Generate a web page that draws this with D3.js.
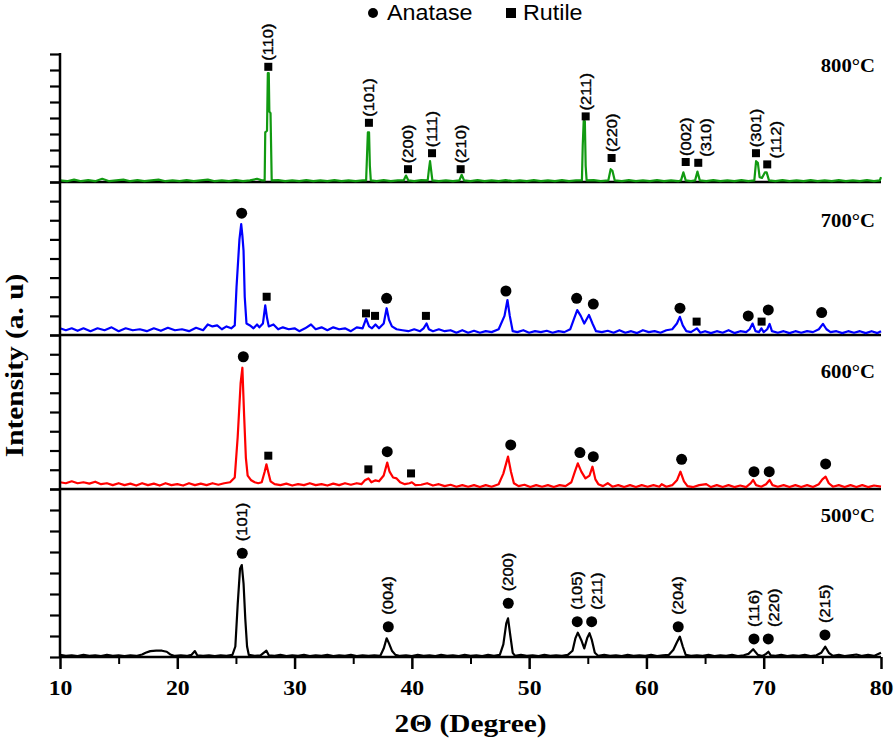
<!DOCTYPE html>
<html>
<head>
<meta charset="utf-8">
<script src="https://cdn.jsdelivr.net/npm/d3@7"></script>
<style>
  body { margin: 0; background: #fff; }
  svg { display: block; }
</style>
</head>
<body>
<div id="vis"></div>
<script>
// XRD patterns, [2theta, intensity] with intensity in tick units (8 per panel)
const green800 = [[10,0.1],[10.6,0.05],[11.2,0.15],[11.8,0.05],[12.4,0.12],[13,0.05],[13.6,0.2],[14.2,0.05],[14.8,0.1],[15.4,0.15],[16,0.05],[16.6,0.12],[17.2,0.05],[17.8,0.1],[18.4,0.15],[19,0.05],[19.6,0.1],[20.2,0.05],[20.8,0.12],[21.4,0.05],[22,0.1],[22.6,0.15],[23.2,0.05],[23.8,0.1],[24.4,0.05],[25,0.12],[25.6,0.05],[26.2,0.1],[26.8,0.2],[27.2,0.1],[27.45,0.1],[27.5,3.1],[27.65,3.2],[27.72,6.8],[27.8,6.8],[27.85,4.4],[27.95,4.3],[28.05,0.1],[28.6,0.12],[29.2,0.05],[29.8,0.1],[30.4,0.05],[31,0.12],[31.6,0.05],[32.2,0.1],[32.8,0.05],[33.4,0.12],[34,0.05],[34.6,0.1],[35.2,0.05],[35.8,0.1],[36.1,0.1],[36.18,1.7],[36.25,3.1],[36.35,3.1],[36.42,1],[36.5,0.1],[37,0.05],[37.6,0.12],[38.2,0.05],[38.8,0.1],[39.3,0.1],[39.5,0.4],[39.7,0.1],[40.2,0.05],[40.8,0.12],[41.35,0.1],[41.45,0.75],[41.55,1.3],[41.65,0.7],[41.75,0.1],[42.3,0.05],[42.9,0.1],[43.5,0.05],[44.05,0.1],[44.25,0.45],[44.45,0.1],[45,0.05],[45.6,0.12],[46.2,0.05],[46.8,0.1],[47.4,0.05],[48,0.12],[48.6,0.05],[49.2,0.1],[49.8,0.05],[50.4,0.12],[51,0.05],[51.6,0.1],[52.2,0.05],[52.8,0.12],[53.4,0.05],[54,0.1],[54.5,0.1],[54.57,2.3],[54.65,3.8],[54.75,3.8],[54.82,1],[54.9,0.1],[55.5,0.12],[56.1,0.05],[56.75,0.1],[56.95,0.8],[57.1,0.7],[57.3,0.1],[57.9,0.05],[58.5,0.12],[59.1,0.05],[59.7,0.1],[60.3,0.05],[60.9,0.12],[61.5,0.05],[62.1,0.1],[62.7,0.05],[62.95,0.1],[63.15,0.6],[63.35,0.1],[63.8,0.05],[64.15,0.1],[64.35,0.65],[64.55,0.1],[65.1,0.05],[65.7,0.12],[66.3,0.05],[66.9,0.1],[67.5,0.05],[68.1,0.12],[68.7,0.05],[69.2,0.1],[69.35,1.3],[69.5,1.2],[69.65,0.3],[69.85,0.25],[70.1,0.6],[70.25,0.6],[70.45,0.1],[71,0.05],[71.6,0.12],[72.2,0.05],[72.8,0.1],[73.4,0.05],[74,0.12],[74.6,0.05],[75.2,0.1],[75.8,0.05],[76.4,0.12],[77,0.05],[77.6,0.1],[78.2,0.05],[78.8,0.12],[79.4,0.05],[79.9,0.1],[80,0.3]];

const blue700 = [[10,0.35],[10.5,0.25],[11,0.35],[11.5,0.22],[12,0.35],[12.6,0.2],[13.2,0.35],[13.8,0.25],[14.4,0.4],[15,0.2],[15.6,0.35],[16.2,0.25],[16.8,0.3],[17.4,0.2],[18,0.35],[18.6,0.22],[19.2,0.38],[19.8,0.25],[20.4,0.3],[21,0.2],[21.6,0.38],[22.2,0.25],[22.6,0.55],[23,0.45],[23.4,0.5],[23.8,0.3],[24.2,0.45],[24.6,0.35],[24.9,0.5],[25.05,2.5],[25.3,5],[25.45,5.8],[25.55,5.2],[25.65,4.4],[25.75,2],[25.9,0.6],[26.2,0.5],[26.5,0.35],[26.8,0.55],[27,0.4],[27.3,0.6],[27.5,1.55],[27.65,0.9],[27.8,0.45],[28.2,0.55],[28.6,0.3],[29,0.4],[29.5,0.3],[30,0.35],[30.4,0.2],[30.9,0.35],[31.4,0.55],[31.8,0.3],[32.3,0.4],[32.8,0.25],[33.3,0.4],[33.8,0.3],[34.3,0.35],[34.8,0.2],[35.3,0.4],[35.8,0.35],[36.1,0.85],[36.35,0.45],[36.6,0.35],[36.9,0.55],[37.2,0.35],[37.6,0.6],[37.85,1.4],[38.05,0.8],[38.3,0.45],[38.7,0.3],[39.2,0.25],[39.7,0.2],[40.2,0.3],[40.7,0.2],[41,0.35],[41.25,0.6],[41.45,0.3],[41.8,0.2],[42.3,0.3],[42.8,0.2],[43.3,0.25],[43.8,0.12],[44.3,0.25],[44.8,0.12],[45.3,0.22],[45.8,0.12],[46.3,0.2],[46.8,0.15],[47.4,0.3],[47.9,1],[48.15,1.83],[48.35,1],[48.6,0.2],[49,0.15],[49.5,0.25],[50,0.12],[50.5,0.2],[51,0.15],[51.5,0.22],[52,0.12],[52.5,0.2],[53,0.15],[53.5,0.3],[53.8,0.8],[54.1,1.3],[54.4,1],[54.7,0.6],[55.1,1.05],[55.4,0.6],[55.7,0.2],[56.2,0.15],[56.7,0.22],[57.2,0.12],[57.7,0.25],[58.2,0.12],[58.7,0.2],[59.2,0.1],[59.7,0.25],[60.2,0.15],[60.7,0.2],[61.2,0.12],[61.7,0.25],[62.2,0.3],[62.6,0.6],[62.85,0.95],[63.1,0.5],[63.4,0.2],[63.8,0.15],[64.3,0.35],[64.6,0.12],[65,0.2],[65.5,0.1],[66,0.2],[66.5,0.12],[67,0.25],[67.5,0.1],[68,0.2],[68.5,0.15],[68.8,0.3],[69.05,0.6],[69.3,0.2],[69.6,0.15],[69.8,0.35],[70,0.15],[70.3,0.3],[70.5,0.58],[70.7,0.2],[71.2,0.12],[71.7,0.2],[72.2,0.1],[72.7,0.2],[73.2,0.12],[73.7,0.2],[74.2,0.15],[74.7,0.3],[75.05,0.58],[75.35,0.3],[75.7,0.15],[76.2,0.2],[76.7,0.1],[77.2,0.2],[77.7,0.12],[78.2,0.2],[78.7,0.1],[79.2,0.2],[79.7,0.1],[80,0.2]];

const red600 = [[10,0.35],[10.5,0.3],[11,0.4],[11.5,0.3],[12,0.35],[12.5,0.28],[13,0.38],[13.5,0.25],[14,0.3],[14.5,0.2],[15,0.3],[15.5,0.2],[16,0.28],[16.5,0.18],[17,0.3],[17.5,0.2],[18,0.28],[18.5,0.18],[19,0.3],[19.5,0.2],[20,0.25],[20.5,0.18],[21,0.3],[21.5,0.2],[22,0.28],[22.5,0.2],[23,0.3],[23.5,0.22],[24,0.3],[24.5,0.35],[24.9,0.6],[25.15,2.7],[25.4,5.5],[25.55,6.3],[25.7,3.8],[25.85,1.6],[26,0.7],[26.3,0.45],[26.6,0.35],[26.9,0.3],[27.2,0.35],[27.45,0.9],[27.6,1.28],[27.75,0.9],[27.95,0.4],[28.3,0.25],[28.8,0.2],[29.3,0.28],[29.8,0.18],[30.3,0.25],[30.8,0.2],[31.3,0.3],[31.8,0.2],[32.3,0.25],[32.8,0.18],[33.3,0.28],[33.8,0.2],[34.3,0.3],[34.8,0.22],[35.3,0.3],[35.7,0.25],[36,0.45],[36.3,0.55],[36.55,0.35],[36.9,0.45],[37.2,0.4],[37.6,0.7],[37.9,1.37],[38.1,0.9],[38.4,0.6],[38.7,0.55],[39,0.35],[39.4,0.25],[39.8,0.3],[40,0.35],[40.3,0.2],[40.8,0.22],[41.3,0.3],[41.8,0.18],[42.3,0.25],[42.8,0.15],[43.3,0.22],[43.8,0.12],[44.3,0.2],[44.8,0.12],[45.3,0.2],[45.8,0.1],[46.3,0.2],[46.8,0.12],[47.4,0.25],[47.8,0.8],[48.2,1.68],[48.45,0.9],[48.7,0.3],[49.1,0.15],[49.6,0.22],[50.1,0.1],[50.6,0.2],[51.1,0.12],[51.6,0.2],[52.1,0.1],[52.6,0.2],[53.1,0.15],[53.6,0.35],[53.9,0.9],[54.15,1.33],[54.45,0.9],[54.8,0.55],[55.15,0.7],[55.4,1.16],[55.65,0.5],[55.9,0.25],[56.3,0.15],[56.7,0.3],[57.1,0.12],[57.6,0.2],[58.1,0.1],[58.6,0.2],[59.1,0.1],[59.6,0.2],[60.1,0.12],[60.6,0.2],[61.1,0.12],[61.3,0.25],[61.7,0.12],[62.2,0.2],[62.6,0.45],[62.9,0.9],[63.2,0.4],[63.5,0.15],[64,0.1],[64.5,0.2],[65.1,0.25],[65.5,0.1],[66,0.2],[66.5,0.1],[67,0.2],[67.5,0.1],[68,0.18],[68.5,0.1],[68.9,0.3],[69.1,0.47],[69.35,0.2],[69.8,0.12],[70.2,0.25],[70.5,0.47],[70.75,0.2],[71.2,0.12],[71.7,0.2],[72.2,0.1],[72.7,0.2],[73.2,0.1],[73.7,0.2],[74.2,0.1],[74.7,0.25],[75,0.5],[75.28,0.64],[75.55,0.3],[75.9,0.12],[76.4,0.2],[76.9,0.1],[77.4,0.2],[77.9,0.1],[78.4,0.2],[78.9,0.1],[79.4,0.18],[80,0.12]];

const black500 = [[10,0.1],[10.5,0.05],[11,0.08],[11.5,0.04],[12,0.1],[12.5,0.05],[13,0.08],[13.5,0.04],[14,0.1],[14.5,0.05],[15,0.08],[15.5,0.04],[16,0.08],[16.5,0.05],[17,0.12],[17.3,0.2],[17.7,0.28],[18.2,0.3],[18.7,0.3],[19.1,0.25],[19.4,0.12],[19.8,0.05],[20.3,0.08],[20.8,0.05],[21.2,0.1],[21.5,0.28],[21.7,0.08],[22.2,0.05],[22.7,0.08],[23.2,0.04],[23.7,0.08],[24.2,0.05],[24.7,0.1],[24.95,0.5],[25.15,2.5],[25.35,4.2],[25.5,4.38],[25.65,3.5],[25.8,1.8],[25.95,0.5],[26.1,0.1],[26.6,0.05],[27.1,0.08],[27.6,0.3],[27.8,0.08],[28.3,0.05],[28.8,0.1],[29.3,0.04],[29.8,0.08],[30.3,0.05],[30.8,0.1],[31.3,0.04],[31.8,0.08],[32.3,0.05],[32.8,0.1],[33.3,0.04],[33.8,0.08],[34.3,0.05],[34.8,0.1],[35.3,0.04],[35.8,0.08],[36.3,0.05],[36.8,0.08],[37.3,0.05],[37.6,0.4],[37.85,0.89],[38.05,0.65],[38.3,0.3],[38.6,0.1],[39,0.05],[39.5,0.08],[40,0.04],[40.5,0.1],[41,0.05],[41.5,0.08],[42,0.04],[42.5,0.1],[43,0.05],[43.5,0.08],[44,0.04],[44.5,0.1],[45,0.05],[45.5,0.08],[46,0.04],[46.5,0.1],[47,0.05],[47.5,0.1],[47.8,0.6],[48.05,1.6],[48.2,1.84],[48.4,1],[48.6,0.2],[48.8,0.05],[49.3,0.1],[49.8,0.05],[50.3,0.08],[50.8,0.04],[51.3,0.1],[51.8,0.05],[52.3,0.08],[52.8,0.05],[53.3,0.1],[53.7,0.3],[53.95,0.9],[54.15,1.16],[54.45,0.8],[54.7,0.41],[54.95,0.9],[55.15,1.13],[55.35,0.8],[55.6,0.2],[55.9,0.05],[56.4,0.1],[56.9,0.05],[57.4,0.08],[57.9,0.04],[58.4,0.1],[58.9,0.05],[59.4,0.08],[59.9,0.05],[60.4,0.1],[60.9,0.04],[61.4,0.08],[61.9,0.1],[62.3,0.35],[62.6,0.7],[62.85,0.97],[63.1,0.5],[63.35,0.1],[63.8,0.05],[64.3,0.08],[64.8,0.05],[65.3,0.1],[65.8,0.04],[66.3,0.08],[66.8,0.05],[67.3,0.1],[67.8,0.04],[68.3,0.08],[68.7,0.15],[69.1,0.37],[69.5,0.1],[69.9,0.05],[70.2,0.15],[70.4,0.25],[70.6,0.08],[71,0.05],[71.5,0.1],[72,0.04],[72.5,0.08],[73,0.05],[73.5,0.1],[74,0.04],[74.5,0.08],[74.9,0.2],[75.25,0.49],[75.55,0.2],[75.9,0.05],[76.4,0.1],[76.9,0.04],[77.4,0.08],[77.9,0.12],[78.4,0.05],[78.9,0.1],[79.4,0.05],[80,0.2]];

// phase markers: [2theta, level, phase, hkl label]
const markers800 = [[27.76,7.2,'R','(110)'],[36.34,3.7,'R','(101)'],[39.67,0.8,'R','(200)'],[41.72,1.8,'R','(111)'],[44.16,0.8,'R','(210)'],[54.82,4.1,'R','(211)'],[57.03,1.5,'R','(220)'],[63.35,1.25,'R','(002)'],[64.42,1.2,'R','(310)'],[69.34,1.8,'R','(301)'],[70.3,1.1,'R','(112)']];
const markers700 = [[25.49,6.37,'A'],[27.62,2.0,'R'],[36.09,1.13,'R'],[36.86,1.0,'R'],[37.85,1.92,'A'],[41.2,1.0,'R'],[48.02,2.3,'A'],[54.05,1.92,'A'],[55.47,1.62,'A'],[62.86,1.4,'A'],[64.28,0.7,'R'],[68.68,1.0,'A'],[69.82,0.7,'R'],[70.39,1.31,'A'],[74.94,1.17,'A']];
const markers600 = [[25.63,6.87,'A'],[27.76,1.73,'R'],[36.29,1.02,'R'],[37.9,1.94,'A'],[39.93,0.81,'R'],[48.43,2.29,'A'],[54.33,1.89,'A'],[55.47,1.68,'A'],[63.0,1.54,'A'],[69.17,0.9,'A'],[70.47,0.9,'A'],[75.28,1.3,'A']];
const markers500 = [[25.54,4.94,'A','(101)'],[37.99,1.44,'A','(004)'],[48.22,2.56,'A','(200)'],[54.1,1.68,'A','(105)'],[55.33,1.68,'A','(211)'],[62.71,1.44,'A','(204)'],[69.17,0.86,'A','(116)'],[70.39,0.86,'A','(220)'],[75.22,1.05,'A','(215)']];

const temps = ['800°C', '700°C', '600°C', '500°C'];
const lineColors = ['#119a11', '#0000ff', '#ff0000', '#000000'];
const xMajor = [10, 20, 30, 40, 50, 60, 70, 80];
const xMinor = [15, 25, 35, 45, 55, 65, 75];
const yTicks = [0, 1, 2, 3, 4, 5, 6, 7, 8];

// layout
const W = 896, H = 743;
const left = 60, right = 881;
const bounds = [54, 182, 335, 489, 657];
const tempDy = [18, 45, 43, 33];
const serif = '"Liberation Serif", "Times New Roman", serif';
const sans = '"Liberation Sans", Arial, sans-serif';

const svg = d3.select('#vis').append('svg')
  .attr('width', W).attr('height', H)
  .attr('viewBox', `0 0 ${W} ${H}`);

const x = d3.scaleLinear().domain([10, 80]).range([left, right]);

// text with a little horizontal stretch, the source font runs wide
function stretchText(g, px, py, txt, o) {
  const t = g.append('g')
    .attr('transform', `translate(${px},${py}) rotate(${o.rot || 0}) scale(${o.sx || 1},1)`);
  return t.append('text')
    .attr('text-anchor', o.anchor || 'start')
    .attr('font-family', o.family)
    .attr('font-weight', o.weight || 'normal')
    .attr('font-size', o.size)
    .attr('fill', '#000')
    .text(txt);
}

const panels = [
  { data: green800, markers: markers800 },
  { data: blue700, markers: markers700 },
  { data: red600, markers: markers600 },
  { data: black500, markers: markers500 }
];

panels.forEach((p, i) => {
  const top = bounds[i], bottom = bounds[i + 1];
  const y = d3.scaleLinear().domain([0, 8]).range([bottom, top]);
  const g = svg.append('g');

  // y ticks for this panel
  g.append('g')
    .attr('transform', `translate(${left},0)`)
    .call(d3.axisLeft(y).tickValues(yTicks).tickSize(10).tickSizeOuter(0).tickFormat(''))
    .call(a => a.select('.domain').remove())
    .call(a => a.selectAll('line').attr('stroke', '#000').attr('stroke-width', 2.2));

  // separator / baseline
  g.append('line')
    .attr('x1', left).attr('x2', right)
    .attr('y1', bottom).attr('y2', bottom)
    .attr('stroke', '#000').attr('stroke-width', 2.5);

  const line = d3.line().x(d => x(d[0])).y(d => y(d[1]));
  g.append('path')
    .datum(p.data)
    .attr('fill', 'none')
    .attr('stroke', lineColors[i])
    .attr('stroke-width', 2.2)
    .attr('stroke-linejoin', 'round')
    .attr('d', line);

  // markers
  p.markers.forEach(m => {
    const cx = x(m[0]), cy = y(m[1]);
    if (m[2] === 'A') {
      g.append('circle').attr('cx', cx).attr('cy', cy).attr('r', 5.5).attr('fill', '#000');
    } else {
      g.append('rect').attr('x', cx - 4).attr('y', cy - 4).attr('width', 8).attr('height', 8).attr('fill', '#000');
    }
  });

  // hkl labels, pushed right when neighbours crowd
  let prevX = -100;
  p.markers.filter(m => m[3]).forEach(m => {
    const lx = Math.max(x(m[0]), prevX + 20);
    prevX = lx;
    const gap = m[2] === 'A' ? 12 : 6;
    stretchText(g, lx + 5, y(m[1]) - gap, m[3], { rot: -90, sx: 1.18, size: 14, family: sans })
      .attr('stroke', '#000').attr('stroke-width', 0.35);
  });

  stretchText(g, 875, top + tempDy[i], temps[i], { anchor: 'end', sx: 1.15, size: 18, family: serif, weight: 'bold' });
});

// left axis line
svg.append('line')
  .attr('x1', left).attr('x2', left)
  .attr('y1', bounds[0] - 1).attr('y2', bounds[4] + 1)
  .attr('stroke', '#000').attr('stroke-width', 2.5);

// x axis
const xAxis = svg.append('g')
  .attr('transform', `translate(0,${bounds[4]})`)
  .call(d3.axisBottom(x).tickValues(xMajor).tickSize(12).tickSizeOuter(0).tickFormat(d3.format('d')));
xAxis.select('.domain').remove();
xAxis.selectAll('line').attr('stroke', '#000').attr('stroke-width', 2.5);
xAxis.selectAll('text')
  .attr('y', 38).attr('dy', null)
  .attr('transform', 'scale(1.13,1)')
  .attr('font-family', serif).attr('font-weight', 'bold').attr('font-size', 21).attr('fill', '#000');

svg.append('g')
  .attr('transform', `translate(0,${bounds[4]})`)
  .call(d3.axisBottom(x).tickValues(xMinor).tickSize(7).tickFormat(''))
  .call(a => a.select('.domain').remove())
  .call(a => a.selectAll('line').attr('stroke', '#000').attr('stroke-width', 2));

// axis titles
stretchText(svg, (left + right) / 2, 732, '2Θ (Degree)', { anchor: 'middle', sx: 1.13, size: 26, family: serif, weight: 'bold' });
stretchText(svg, 23, (bounds[0] + bounds[4]) / 2 + 10, 'Intensity (a. u)', { anchor: 'middle', rot: -90, sx: 1.13, size: 26, family: serif, weight: 'bold' });

// legend
const leg = svg.append('g');
leg.append('circle').attr('cx', 373).attr('cy', 13).attr('r', 5).attr('fill', '#000');
stretchText(leg, 387, 20, 'Anatase', { sx: 1.06, size: 22, family: sans });
leg.append('rect').attr('x', 506).attr('y', 8).attr('width', 10).attr('height', 10).attr('fill', '#000');
stretchText(leg, 523, 20, 'Rutile', { sx: 1.06, size: 22, family: sans });
</script>
</body>
</html>
